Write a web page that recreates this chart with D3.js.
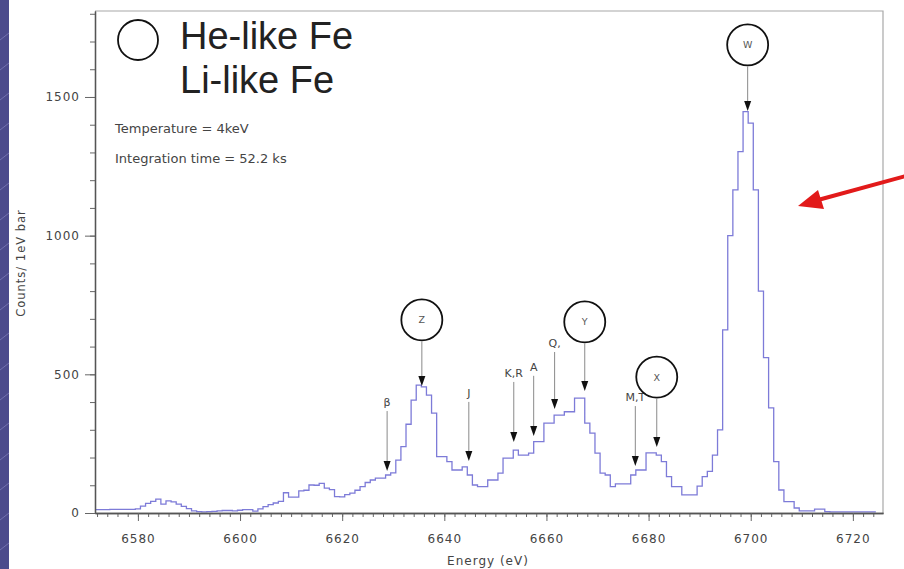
<!DOCTYPE html>
<html>
<head>
<meta charset="utf-8">
<script src="https://cdn.jsdelivr.net/npm/d3@7"></script>
<style>
  html, body { margin: 0; padding: 0; background: #fff; }
  svg { display: block; }
</style>
</head>
<body>
<svg id="chart" width="904" height="569"></svg>
<script>
// Fe K-shell spectrum: counts per 1 eV bin, bins centred on whole eV from binStart
const binStart = 6572;
const counts = [
  12,12,12,13,13,13,13,13,
  15,25,35,42,50,32,44,40,32,24,
  16,8,5,4,5,6,8,9,9,8,
  10,12,12,7,15,23,30,36,42,73,
  57,57,80,82,101,100,107,90,84,59,
  58,66,72,82,95,110,119,126,126,137,
  145,191,239,320,407,461,455,425,360,203,
  203,185,155,155,166,137,101,95,95,119,
  119,144,198,198,227,209,209,216,257,257,
  324,324,353,353,365,365,414,414,324,288,
  216,144,137,95,105,105,105,137,155,155,
  217,217,209,185,131,95,95,65,65,65,
  97,131,150,209,300,660,1000,1165,1303,1447,
  1406,1165,800,560,379,185,83,41,41,18,
  8,8,8,14,14,5,4,4,4,4,
  4,4,4,4,4
];

// axis ticks
const xMajorTicks = [6580, 6600, 6620, 6640, 6660, 6680, 6700, 6720];
const yMajorTicks = [0, 500, 1000, 1500];

// line identifications with plain labels
const tagNames  = ["β", "J", "K,R", "A", "Q,", "M,T"];
const tagEnergy = [6628.8, 6644.8, 6653.6, 6657.5, 6661.6, 6677.4];
const tagTip    = [148, 184, 252, 274, 371, 166];
const tagLabel  = [400, 433, 505, 527, 613, 418];

// He-like lines, circled
const ringNames  = ["Z", "Y", "X", "W"];
const ringEnergy = [6635.6, 6667.5, 6681.6, 6699.4];
const ringTip    = [454, 436, 234, 1446];
const ringLevel  = [696, 689, 490, 1688];

const svg = d3.select("#chart");
const W = 904, H = 569;
const plotL = 95, plotR = 883, plotT = 11, plotB = 513;

const x = d3.scaleLinear().domain([6571.6, 6725.9]).range([plotL, plotR]);
const y = d3.scaleLinear().domain([0, 1810]).range([plotB, plotT]);

// slide border strip
const strip = svg.append("g");
strip.append("rect").attr("x", 0).attr("y", 0).attr("width", 9).attr("height", H).attr("fill", "#4c4b8c");
const defs = svg.append("defs");
defs.append("clipPath").attr("id", "stripClip")
  .append("rect").attr("x", 0).attr("y", 0).attr("width", 9).attr("height", H);
defs.append("clipPath").attr("id", "plotClip")
  .append("rect").attr("x", plotL).attr("y", plotT).attr("width", plotR - plotL).attr("height", plotB - plotT);
const stripLines = strip.append("g").attr("clip-path", "url(#stripClip)");
for (let k = 0; k < 22; k++) {
  const y0 = 40 + k * 30;
  stripLines.append("line").attr("x1", 0).attr("y1", y0).attr("x2", 9).attr("y2", y0 - 7)
    .attr("stroke", "#7c7bb8").attr("stroke-width", 0.8);
}

// frame (top and right)
svg.append("path")
  .attr("d", `M${plotL},${plotT}H${plotR}V${plotB}`)
  .attr("fill", "none").attr("stroke", "#a8a8a8").attr("stroke-width", 1.2);

// histogram as steps between bin edges
const edges = counts.map((c, i) => [binStart + i - 0.5, c]);
edges.push([binStart + counts.length - 0.5, counts[counts.length - 1]]);
const stepLine = d3.line()
  .x(d => x(d[0]))
  .y(d => y(d[1]))
  .curve(d3.curveStepAfter);
svg.append("path")
  .datum(edges)
  .attr("clip-path", "url(#plotClip)")
  .attr("d", stepLine)
  .attr("fill", "none")
  .attr("stroke", "#7d7bd8")
  .attr("stroke-width", 1.3);

// axes
const axisFont = "DejaVu Sans, Verdana, sans-serif";
const gx = svg.append("g").attr("transform", `translate(0,${plotB})`);
gx.call(d3.axisBottom(x).tickValues(d3.range(6572, 6726, 2)).tickSize(4).tickFormat("").tickSizeOuter(0));
gx.append("g").call(d3.axisBottom(x).tickValues(xMajorTicks).tickSize(8).tickPadding(13)
  .tickFormat(d3.format("d")).tickSizeOuter(0));
const gy = svg.append("g").attr("transform", `translate(${plotL},0)`);
gy.call(d3.axisLeft(y).tickValues(d3.range(0, 1801, 100)).tickSize(5).tickFormat("").tickSizeOuter(0));
gy.append("g").call(d3.axisLeft(y).tickValues(yMajorTicks).tickSize(10).tickPadding(5)
  .tickFormat(d3.format("d")).tickSizeOuter(0));
svg.selectAll(".domain").attr("stroke", "#555").attr("stroke-width", 1.3);
svg.selectAll(".tick line").attr("stroke", "#666");
svg.selectAll(".tick text")
  .attr("font-family", axisFont).attr("font-size", 12).attr("letter-spacing", 1)
  .attr("fill", "#444");

// axis titles
svg.append("text")
  .attr("x", 488).attr("y", 565).attr("text-anchor", "middle")
  .attr("font-family", axisFont).attr("font-size", 12).attr("letter-spacing", 1)
  .attr("fill", "#444").text("Energy (eV)");
svg.append("text")
  .attr("transform", "translate(25,263) rotate(-90)").attr("text-anchor", "middle")
  .attr("font-family", axisFont).attr("font-size", 11.5).attr("letter-spacing", 1)
  .attr("fill", "#444").text("Counts/ 1eV bar");

// key
svg.append("circle").attr("cx", 138).attr("cy", 40).attr("r", 20)
  .attr("fill", "none").attr("stroke", "#111").attr("stroke-width", 1.8);
const keyFont = "Liberation Sans, Arial, sans-serif";
svg.append("text").attr("x", 180).attr("y", 49).attr("font-family", keyFont)
  .attr("font-size", 38).attr("fill", "#222").text("He-like Fe");
svg.append("text").attr("x", 180).attr("y", 93).attr("font-family", keyFont)
  .attr("font-size", 38).attr("fill", "#222").text("Li-like Fe");

svg.append("text").attr("x", 115).attr("y", 133).attr("font-family", axisFont)
  .attr("font-size", 13).attr("fill", "#444").text("Temperature = 4keV");
svg.append("text").attr("x", 115).attr("y", 163).attr("font-family", axisFont)
  .attr("font-size", 13).attr("fill", "#444").text("Integration time = 52.2 ks");

// marker arrows
const headH = 10, headW = 7;
function arrow(g, xe, yTopPx, tipVal) {
  const xp = x(xe), ty = y(tipVal) - 1;
  g.append("line").attr("x1", xp).attr("x2", xp).attr("y1", yTopPx).attr("y2", ty - headH + 1)
    .attr("stroke", "#8a8a8a").attr("stroke-width", 1);
  g.append("path")
    .attr("d", `M${xp - headW / 2},${ty - headH}L${xp + headW / 2},${ty - headH}L${xp},${ty}Z`)
    .attr("fill", "#111");
}

const tags = svg.append("g");
tagNames.forEach((name, i) => {
  const ly = y(tagLabel[i]);
  tags.append("text").attr("x", x(tagEnergy[i])).attr("y", ly + 4)
    .attr("text-anchor", "middle").attr("font-family", axisFont).attr("font-size", 11)
    .attr("fill", "#444").text(name);
  arrow(tags, tagEnergy[i], ly + 9, tagTip[i]);
});

const rings = svg.append("g");
ringNames.forEach((name, i) => {
  const cx = x(ringEnergy[i]), cy = y(ringLevel[i]), r = 20.5;
  rings.append("circle").attr("cx", cx).attr("cy", cy).attr("r", r)
    .attr("fill", "none").attr("stroke", "#111").attr("stroke-width", 1.8);
  rings.append("text").attr("x", cx).attr("y", cy + 3.5).attr("text-anchor", "middle")
    .attr("font-family", axisFont).attr("font-size", 9.5).attr("fill", "#555").text(name);
  arrow(rings, ringEnergy[i], cy + r + 1, ringTip[i]);
});

// red pointer to the w line
const red = svg.append("g");
red.append("line").attr("x1", 906).attr("y1", 176).attr("x2", 818).attr("y2", 200)
  .attr("stroke", "#e21a1a").attr("stroke-width", 4);
red.append("path").attr("d", "M798,206L818,190L824,209Z").attr("fill", "#e21a1a");
</script>
</body>
</html>
